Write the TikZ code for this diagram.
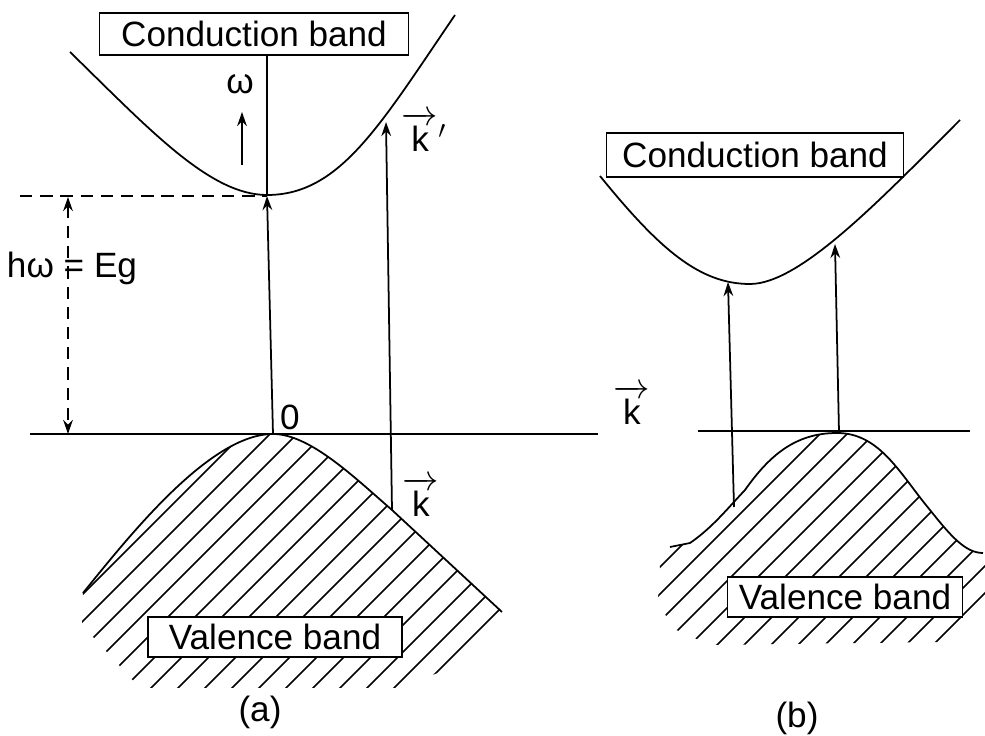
\documentclass[tikz,border=0pt]{standalone}
\usepackage{amsmath}
\usepackage{fontspec}
\setmainfont{Liberation Sans}
\usepackage{tikz}
\usetikzlibrary{arrows.meta,positioning,calc}

\begin{document}
\begin{tikzpicture}[x=0.02cm,y=-0.02cm,line width=1pt,
    font=\fontsize{20}{24}\selectfont,
    bandbox/.style={draw,fill=white,inner sep=0pt},
    tr/.style={-{Stealth[length=8pt,width=5.5pt]}},
    gapline/.style={dash pattern=on 7pt off 4.5pt}]
  \useasboundingbox (0,0) rectangle (985,736);
  % ---------------- (a) direct gap ----------------
  % hatched valence band
  \begin{scope}
    \clip (83,593) .. controls (130,535) and (210,434) .. (273,434)
      .. controls (310,434) and (355,478) .. (392,510)
      -- (502,612) -- (450,668) -- (400,688) -- (140,688) -- (82,625) -- cycle;
    \foreach \s in {650,677,...,1160}
      \draw (\s-750,750) -- (\s-400,400);
  \end{scope}
  \draw (83,593) .. controls (130,535) and (210,434) .. (273,434)
      .. controls (310,434) and (355,478) .. (392,510) -- (502,612);
  % conduction band
  \draw (70,52) .. controls (150,130) and (210,195) .. (267,195)
      .. controls (340,195) and (380,125) .. (455,15);
  \node[bandbox,minimum width=6.18cm,minimum height=0.84cm] (cbA) at (254,34) {Conduction band};
  \node[bandbox,minimum width=5.08cm,minimum height=0.8cm] (vbA) at (275,637) {Valence band};
  % axis
  \coordinate (axAl) at (30,434);
  \coordinate (axAr) at (598,434);
  \draw (axAl) -- (axAr);
  % transitions
  \coordinate (vtopA) at (273,434);
  \coordinate (cminA) at (267,196);
  \coordinate (kinkA) at (392,510);
  \coordinate (kpA) at (386,122);
  \draw[tr] (vtopA) -- (cminA);
  \draw (cminA) -- (cminA |- cbA.south);
  \draw[tr] (kinkA) -- (kpA);
  % gap
  \coordinate (gapL) at (20,196);
  \coordinate (gapT) at (68,197);
  \coordinate (gapB) at (68,434);
  \draw[gapline] (gapL) -- (cminA);
  \draw[gapline,{Stealth[length=8pt,width=5.5pt]}-{Stealth[length=8pt,width=5.5pt]}] (gapT) -- (gapB);
  \node (eg) at (72,268) {hω = Eg};
  % omega
  \coordinate (wlo) at (242,165);
  \coordinate (whi) at (242,112);
  \draw[tr] (wlo) -- (whi);
  \node (om) at (240,84) {ω};
  % labels
  \node (kp) at (424,132) {\(\overrightarrow{\text{k}}'\)};
  \node (kv) at (421,497) {\(\overrightarrow{\text{k}}\)};
  \node (orig) at (290,417) {0};
  \node (la) at (260,712) {(a)};
  % ---------------- (b) indirect gap ----------------
  \begin{scope}
    \clip (670,547) -- (690,543) .. controls (712,528) and (728,508) .. (745,490)
      .. controls (769,456) and (795,433) .. (837,433)
      .. controls (880,433) and (900,474) .. (930,510)
      .. controls (950,535) and (965,553) .. (983,553)
      -- (990,553) -- (990,600) -- (960,632) -- (940,642) -- (710,645) -- (672,628)
      -- (658,600) -- (660,565) -- cycle;
    \foreach \s in {1200,1227,...,1660}
      \draw (\s-750,750) -- (\s-400,400);
  \end{scope}
  \draw (670,547) -- (690,543) .. controls (712,528) and (728,508) .. (745,490)
      .. controls (769,456) and (795,433) .. (837,433)
      .. controls (880,433) and (900,474) .. (930,510)
      .. controls (950,535) and (965,553) .. (983,553);
  \draw (600,176) .. controls (660,250) and (700,284) .. (750,284)
      .. controls (800,284) and (880,200) .. (960,120);
  \node[bandbox,minimum width=5.94cm,minimum height=0.88cm] (cbB) at (755,155) {Conduction band};
  \node[bandbox,minimum width=4.7cm,minimum height=0.8cm] (vbB) at (845,597) {Valence band};
  % axis
  \coordinate (axBl) at (698,431);
  \coordinate (axBr) at (970,431);
  \draw (axBl) -- (axBr);
  % transitions
  \coordinate (vlB) at (734,507);
  \coordinate (clB) at (728,282);
  \coordinate (vtopB) at (839,432);
  \coordinate (crB) at (835,244);
  \draw[tr] (vlB) -- (clB);
  \draw[tr] (vtopB) -- (crB);
  \node (kb) at (632,405) {\(\overrightarrow{\text{k}}\)};
  \node (lb) at (797,718) {(b)};
\end{tikzpicture}
\end{document}
